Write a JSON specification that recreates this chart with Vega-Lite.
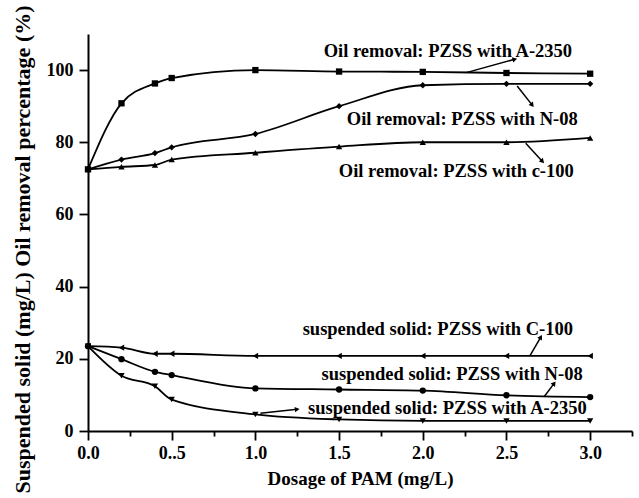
{
  "$schema": "https://vega.github.io/schema/vega-lite/v6.json",
  "width": 544,
  "height": 397,
  "autosize": {"type": "none"},
  "padding": {"left": 88, "top": 34, "right": 7, "bottom": 67},
  "background": "white",
  "config": {
    "view": {"stroke": null},
    "font": "Liberation Serif",
    "axis": {
      "labelFont": "Liberation Serif", "labelFontWeight": "bold", "labelFontSize": 18, "labelColor": "black",
      "titleFont": "Liberation Serif", "titleFontWeight": "bold", "titleFontSize": 19, "titleColor": "black",
      "domainColor": "black", "domainWidth": 2, "tickColor": "black", "tickWidth": 1.8, "grid": false
    }
  },
  "datasets": {
    "curves": [
      {"series": "oilA", "x": 0, "y": 72.5}, {"series": "oilA", "x": 0.2, "y": 90.8}, {"series": "oilA", "x": 0.4, "y": 96.3}, {"series": "oilA", "x": 0.5, "y": 97.8}, {"series": "oilA", "x": 1.0, "y": 100}, {"series": "oilA", "x": 1.5, "y": 99.6}, {"series": "oilA", "x": 2.0, "y": 99.5}, {"series": "oilA", "x": 2.5, "y": 99.2}, {"series": "oilA", "x": 3.0, "y": 99},
      {"series": "oilN", "x": 0, "y": 72.5}, {"series": "oilN", "x": 0.2, "y": 75.2}, {"series": "oilN", "x": 0.4, "y": 77}, {"series": "oilN", "x": 0.5, "y": 78.6}, {"series": "oilN", "x": 1.0, "y": 82.3}, {"series": "oilN", "x": 1.5, "y": 90}, {"series": "oilN", "x": 2.0, "y": 95.8}, {"series": "oilN", "x": 2.5, "y": 96.2}, {"series": "oilN", "x": 3.0, "y": 96.2},
      {"series": "oilC", "x": 0, "y": 72.5}, {"series": "oilC", "x": 0.2, "y": 73.2}, {"series": "oilC", "x": 0.4, "y": 73.7}, {"series": "oilC", "x": 0.5, "y": 75.2}, {"series": "oilC", "x": 1.0, "y": 77.1}, {"series": "oilC", "x": 1.5, "y": 78.8}, {"series": "oilC", "x": 2.0, "y": 80}, {"series": "oilC", "x": 2.5, "y": 80}, {"series": "oilC", "x": 3.0, "y": 81.2},
      {"series": "ssC", "x": 0, "y": 23.5}, {"series": "ssC", "x": 0.2, "y": 23.1}, {"series": "ssC", "x": 0.4, "y": 21.4}, {"series": "ssC", "x": 0.5, "y": 21.4}, {"series": "ssC", "x": 1.0, "y": 20.8}, {"series": "ssC", "x": 1.5, "y": 20.8}, {"series": "ssC", "x": 2.0, "y": 20.8}, {"series": "ssC", "x": 2.5, "y": 20.8}, {"series": "ssC", "x": 3.0, "y": 20.8},
      {"series": "ssN", "x": 0, "y": 23.5}, {"series": "ssN", "x": 0.2, "y": 19.9}, {"series": "ssN", "x": 0.4, "y": 16.4}, {"series": "ssN", "x": 0.5, "y": 15.5}, {"series": "ssN", "x": 1.0, "y": 11.8}, {"series": "ssN", "x": 1.5, "y": 11.5}, {"series": "ssN", "x": 2.0, "y": 11.2}, {"series": "ssN", "x": 2.5, "y": 9.9}, {"series": "ssN", "x": 3.0, "y": 9.4},
      {"series": "ssA", "x": 0, "y": 23.5}, {"series": "ssA", "x": 0.2, "y": 15.3}, {"series": "ssA", "x": 0.4, "y": 12.4}, {"series": "ssA", "x": 0.5, "y": 8.7}, {"series": "ssA", "x": 1.0, "y": 4.6}, {"series": "ssA", "x": 1.5, "y": 3.2}, {"series": "ssA", "x": 2.0, "y": 2.8}, {"series": "ssA", "x": 2.5, "y": 2.8}, {"series": "ssA", "x": 3.0, "y": 2.8}
    ],
    "labels": [
      {"label": "Oil removal: PZSS with A-2350", "x": 2.15, "y": 105.3},
      {"label": "Oil removal: PZSS with N-08", "x": 2.236, "y": 86.5},
      {"label": "Oil removal: PZSS with c-100", "x": 2.2, "y": 72.1},
      {"label": "suspended solid: PZSS with C-100", "x": 2.09, "y": 28.3},
      {"label": "suspended solid: PZSS with N-08", "x": 2.175, "y": 15.9},
      {"label": "suspended solid: PZSS with A-2350", "x": 2.147, "y": 6.5}
    ],
    "arrows": [
      {"x": 2.26, "y": 99.3, "x2": 2.55, "y2": 103, "angle": 74.5},
      {"x": 2.564, "y": 95.6, "x2": 2.654, "y2": 90.3, "angle": 141.7},
      {"x": 2.615, "y": 79.7, "x2": 2.715, "y2": 74.7, "angle": 138},
      {"x": 2.64, "y": 20.8, "x2": 2.705, "y2": 26, "angle": 30.5},
      {"x": 2.725, "y": 9.5, "x2": 2.785, "y2": 13.2, "angle": 36.7},
      {"x": 1.03, "y": 4.9, "x2": 1.25, "y2": 6, "angle": 83.8}
    ]
  },
  "layer": [
    {
      "data": {"name": "curves"},
      "mark": {"type": "line", "interpolate": "monotone", "color": "black", "strokeWidth": 1.8},
      "encoding": {
        "x": {"field": "x", "type": "quantitative", "scale": {"domain": [0, 3.25], "nice": false},
          "axis": {"title": "Dosage of PAM (mg/L)", "values": [0, 0.25, 0.5, 0.75, 1, 1.25, 1.5, 1.75, 2, 2.25, 2.5, 2.75, 3, 3.25],
            "labelExpr": "datum.value == 0.5 ? '0..5' : ((datum.value * 2) % 1 == 0 && datum.value < 3.1 ? format(datum.value, '.1f') : '')",
            "tickSize": {"condition": {"test": "(datum.value * 2) % 1 == 0", "value": 9}, "value": 5},
            "labelPadding": 4, "titlePadding": 7, "labelFlush": false}},
        "y": {"field": "y", "type": "quantitative", "scale": {"domain": [0, 110], "nice": false},
          "axis": {"title": "Suspended solid (mg/L) Oil removal percentage (%)", "values": [0, 10, 20, 30, 40, 50, 60, 70, 80, 90, 100],
            "labelExpr": "datum.value % 20 == 0 ? datum.value : ''",
            "tickSize": {"condition": {"test": "datum.value % 20 == 0", "value": 9}, "value": 8},
            "labelPadding": 6, "titlePadding": 12, "titleFontSize": 22, "titleY": 215}},
        "detail": {"field": "series"}
      }
    },
    {
      "data": {"name": "curves"},
      "mark": {"type": "point", "filled": true, "color": "black", "opacity": 1, "size": 40},
      "encoding": {
        "x": {"field": "x", "type": "quantitative"},
        "y": {"field": "y", "type": "quantitative"},
        "shape": {"field": "series", "type": "nominal", "legend": null,
          "scale": {"domain": ["oilA", "oilN", "oilC", "ssC", "ssN", "ssA"], "range": ["square", "diamond", "triangle-up", "triangle-left", "circle", "triangle-down"]}}
      }
    },
    {
      "data": {"name": "arrows"},
      "mark": {"type": "rule", "color": "black", "strokeWidth": 1.5},
      "encoding": {
        "x": {"field": "x", "type": "quantitative"},
        "y": {"field": "y", "type": "quantitative"},
        "x2": {"field": "x2"},
        "y2": {"field": "y2"}
      }
    },
    {
      "data": {"name": "arrows"},
      "mark": {"type": "point", "shape": "triangle-up", "filled": true, "color": "black", "opacity": 1, "size": 30},
      "encoding": {
        "x": {"field": "x2", "type": "quantitative"},
        "y": {"field": "y2", "type": "quantitative"},
        "angle": {"field": "angle", "type": "quantitative", "scale": null}
      }
    },
    {
      "data": {"name": "labels"},
      "mark": {"type": "text", "font": "Liberation Serif", "fontWeight": "bold", "fontSize": 18.5, "color": "black", "align": "center", "baseline": "middle"},
      "encoding": {
        "x": {"field": "x", "type": "quantitative"},
        "y": {"field": "y", "type": "quantitative"},
        "text": {"field": "label"}
      }
    }
  ]
}
